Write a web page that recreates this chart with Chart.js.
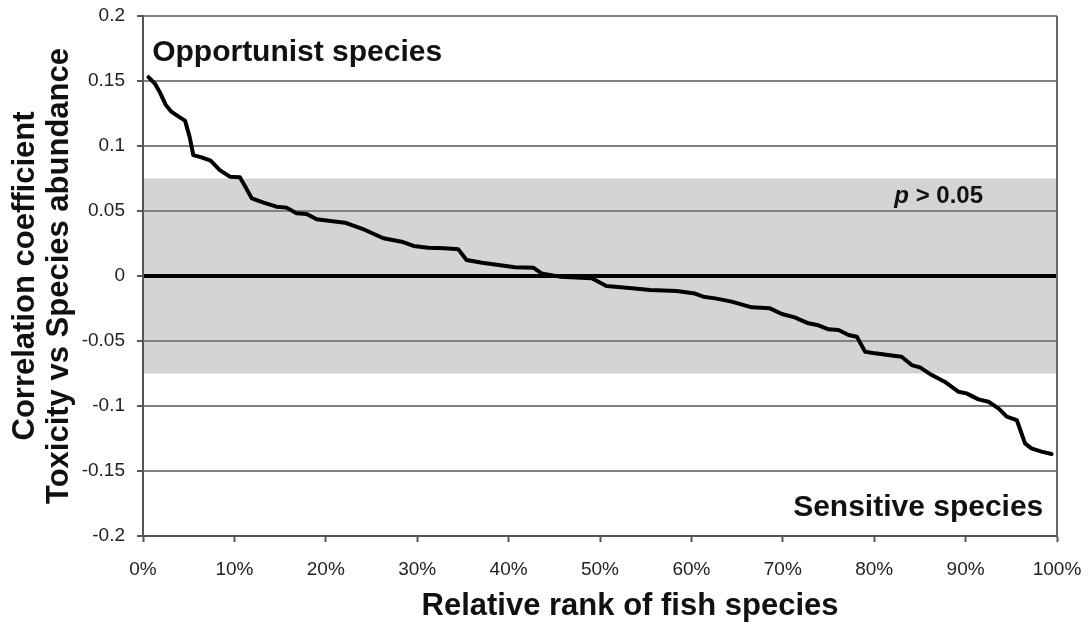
<!DOCTYPE html>
<html>
<head>
<meta charset="utf-8">
<style>
  html, body { margin: 0; padding: 0; background: #ffffff; }
  #wrap { width: 1088px; height: 634px; position: relative; }
</style>
<script src="https://cdn.jsdelivr.net/npm/chart.js@4.4.1/dist/chart.umd.min.js"></script>
</head>
<body>
<div id="wrap"><canvas id="c"></canvas></div>
<script>
// Relative rank of each fish species (% of ranked list)
const rankPct = [
  0.6, 1.3, 1.9, 2.5, 3.1, 3.9, 4.6, 5.1, 5.5, 6.4, 7.4, 8.4, 9.5, 10.6, 11.2, 11.9,
  13.2, 14.6, 15.7, 16.8, 17.9, 19.0, 20.3, 22.1, 24.3, 26.3, 28.3, 29.6, 31.2, 33.0,
  34.5, 35.4, 37.1, 38.9, 40.7, 42.7, 43.6, 45.6, 49.1, 50.7, 52.9, 55.5, 58.4, 60.4,
  61.3, 62.6, 64.4, 66.6, 68.6, 69.9, 71.3, 72.8, 73.9, 75.0, 76.1, 77.2, 78.1, 79.0,
  80.1, 81.5, 83.0, 84.1, 85.0, 86.3, 87.7, 89.2, 90.1, 91.4, 92.5, 93.6, 94.5, 95.6,
  96.5, 97.2, 98.3, 99.4
];
// Correlation coefficient: toxicity vs species abundance
const corr = [
  0.153, 0.148, 0.1405, 0.1315, 0.1264, 0.1226, 0.1195, 0.107, 0.093, 0.0913, 0.0887,
  0.0815, 0.0764, 0.0759, 0.0687, 0.0597, 0.0564, 0.0533, 0.0526, 0.0482, 0.0477,
  0.0436, 0.0425, 0.041, 0.0354, 0.029, 0.0264, 0.0231, 0.0218, 0.0213, 0.0205, 0.0123,
  0.0102, 0.0085, 0.0068, 0.0064, 0.002, -0.0005, -0.0018, -0.0077, -0.009, -0.0108,
  -0.0115, -0.0135, -0.0159, -0.0172, -0.0197, -0.0241, -0.0249, -0.0292, -0.0318,
  -0.0364, -0.0379, -0.041, -0.0415, -0.0454, -0.0467, -0.0582, -0.0595, -0.0608,
  -0.0621, -0.0685, -0.0703, -0.0762, -0.0813, -0.089, -0.0903, -0.0949, -0.0967,
  -0.1018, -0.1082, -0.1108, -0.1287, -0.1326, -0.1351, -0.1369
];
// Axis tick values
const xTicks = [0, 10, 20, 30, 40, 50, 60, 70, 80, 90, 100];
const yTicks = [-0.2, -0.15, -0.1, -0.05, 0, 0.05, 0.1, 0.15, 0.2];
// Non-significant band (|r| below this: p > 0.05)
const bandLimit = 0.075;

const FONT = "'Liberation Sans', Arial, Helvetica, sans-serif";

// Grey band behind the grid, spanning the non-significant correlation range
const bandPlugin = {
  id: 'band',
  beforeDraw(chart) {
    const { ctx, chartArea: a, scales: { y } } = chart;
    const top = y.getPixelForValue(bandLimit);
    const bot = y.getPixelForValue(-bandLimit);
    ctx.save();
    ctx.fillStyle = '#d4d4d4';
    ctx.fillRect(a.left, top, a.right - a.left, bot - top);
    ctx.restore();
  }
};

// Right frame edge, in-plot labels and the x axis title
const labelsPlugin = {
  id: 'labels',
  afterDraw(chart) {
    const { ctx, chartArea: a, scales: { x, y } } = chart;
    ctx.save();
    ctx.strokeStyle = '#666666';
    ctx.lineWidth = 2;
    ctx.beginPath();
    ctx.moveTo(a.right, a.top);
    ctx.lineTo(a.right, a.bottom);
    ctx.stroke();

    ctx.fillStyle = '#111111';
    ctx.textBaseline = 'middle';
    ctx.font = `bold 30px ${FONT}`;
    ctx.textAlign = 'left';
    ctx.fillText('Opportunist species', x.getPixelForValue(1), y.getPixelForValue(0.172));
    ctx.textAlign = 'right';
    ctx.fillText('Sensitive species', x.getPixelForValue(98.5), y.getPixelForValue(-0.178));

    // "p > 0.05" with italic p
    const px = x.getPixelForValue(82.2), py = y.getPixelForValue(0.0615);
    ctx.textAlign = 'left';
    ctx.font = `italic bold 24px ${FONT}`;
    ctx.fillText('p', px, py);
    const pw = ctx.measureText('p').width;
    ctx.font = `bold 24px ${FONT}`;
    ctx.fillText(' > 0.05', px + pw, py);

    // x axis title
    ctx.font = `bold 31px ${FONT}`;
    ctx.textAlign = 'center';
    ctx.fillText('Relative rank of fish species', (a.left + a.right) / 2 + 30, 606);
    ctx.restore();
  }
};

new Chart(document.getElementById('c'), {
  type: 'line',
  data: {
    datasets: [{
      data: rankPct.map((r, i) => ({ x: r, y: corr[i] })),
      borderColor: '#000000',
      borderWidth: 4,
      borderJoinStyle: 'round',
      borderCapStyle: 'round',
      pointRadius: 0,
      tension: 0,
      fill: false
    }]
  },
  options: {
    responsive: true,
    maintainAspectRatio: false,
    animation: false,
    layout: { padding: { top: 16, right: 31, left: 0, bottom: 0 } },
    plugins: { legend: { display: false }, tooltip: { enabled: false } },
    scales: {
      x: {
        type: 'linear',
        min: 0,
        max: 100,
        afterBuildTicks(s) { s.ticks = xTicks.map(v => ({ value: v })); },
        afterFit(s) { s.height = 98; s.paddingLeft = 0; s.paddingRight = 0; },
        ticks: {
          callback: v => v + '%',
          color: '#222222',
          font: { family: FONT, size: 19 },
          padding: 16,
          maxRotation: 0
        },
        grid: { drawOnChartArea: false, drawTicks: true, tickLength: 6, tickColor: '#555555', tickWidth: 2 },
        border: { display: true, color: '#555555', width: 2 }
      },
      y: {
        type: 'linear',
        min: -0.2,
        max: 0.2,
        afterBuildTicks(s) { s.ticks = yTicks.map(v => ({ value: v })); },
        afterFit(s) { s.width = 143; s.paddingTop = 0; s.paddingBottom = 0; },
        ticks: {
          callback: v => String(Number(v.toFixed(2))),
          color: '#222222',
          font: { family: FONT, size: 19 },
          padding: 12
        },
        grid: {
          color: c => (c.tick && c.tick.value === 0) ? '#000000' : '#808080',
          lineWidth: c => (c.tick && c.tick.value === 0) ? 4 : 2,
          tickLength: 6,
          tickColor: '#555555',
          tickWidth: 2
        },
        border: { display: true, color: '#555555', width: 2 },
        title: {
          display: true,
          text: ['Correlation coefficient', 'Toxicity vs Species abundance'],
          color: '#111111',
          font: { family: FONT, size: 31, weight: 'bold', lineHeight: 1.08 },
          padding: { top: 9, bottom: 0 }
        }
      }
    }
  },
  plugins: [bandPlugin, labelsPlugin]
});
</script>
</body>
</html>
